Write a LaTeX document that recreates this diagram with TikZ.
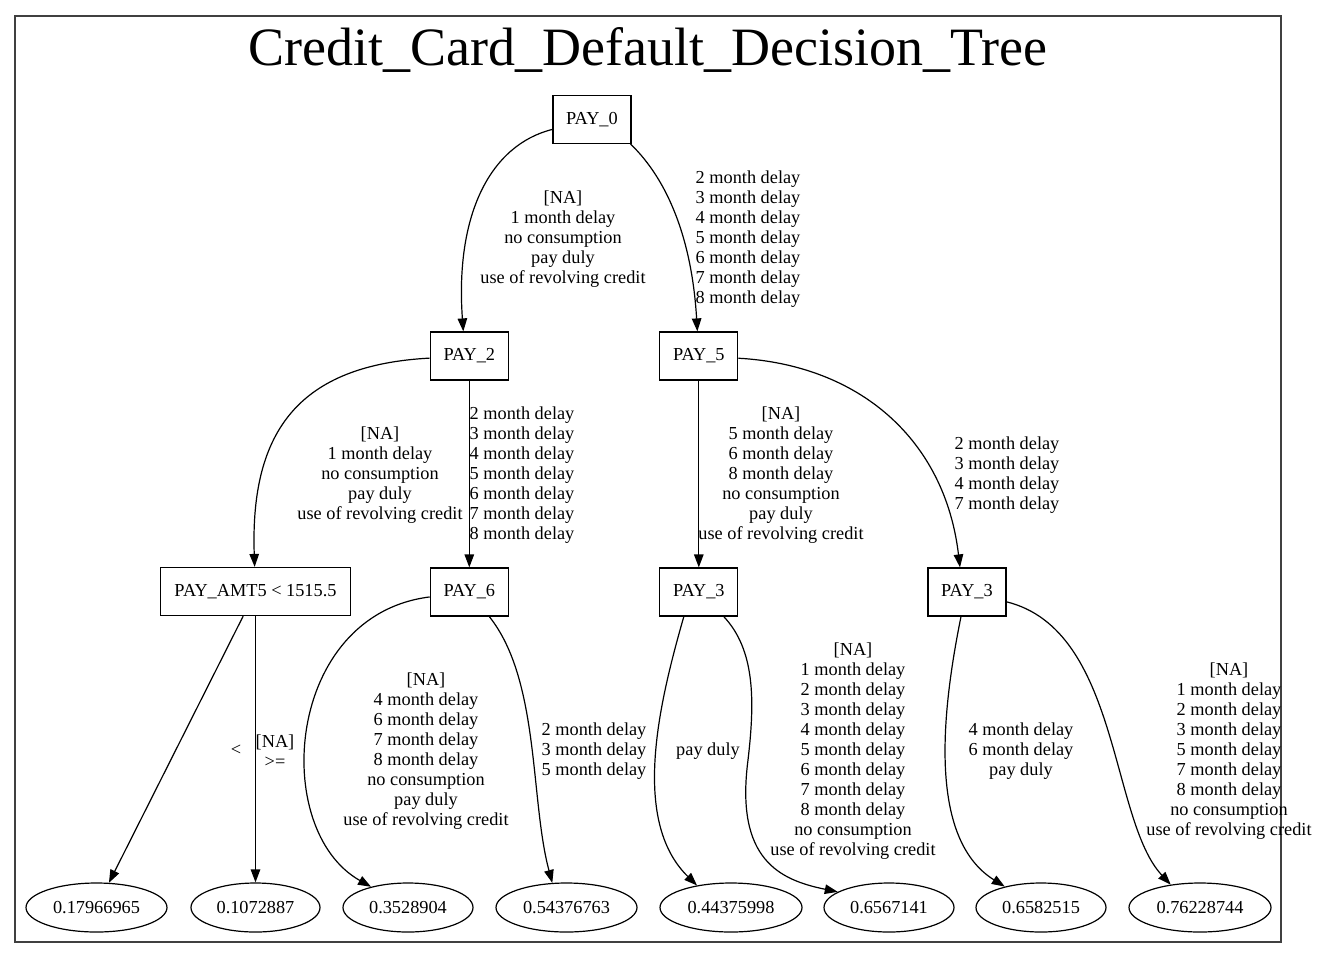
\documentclass[tikz,border=0pt]{standalone}
\usepackage{fontspec}
\setmainfont{Liberation Serif}
\usetikzlibrary{arrows.meta,shapes.geometric}
\newcommand\fsz{\fontsize{18.3}{20}\selectfont}
\tikzset{
  box/.style={draw, line width=1.2pt, minimum height=48, minimum width=78, inner sep=0pt, font=\fsz},
  leaf/.style={draw, ellipse, line width=1.2pt, minimum height=49, inner sep=0pt, font=\fsz},
  edge/.style={line width=1.2pt, -{Triangle[length=13,width=9.5]}},
  lbl/.style={align=center, font=\fsz, inner sep=0pt},
  frame/.style={draw=black!75, line width=1.3pt}
}
\begin{document}
\begin{tikzpicture}[x=1pt,y=-1pt]
\useasboundingbox (0,0) rectangle (1319,959);
\fill[white] (0,0) rectangle (1319,959);
\draw[frame] (15,16) rectangle (1281,942);
\node[font=\fontsize{54}{60}\selectfont, anchor=base, inner sep=0pt] (title) at (648,65) {Credit\_Card\_Default\_Decision\_Tree};
% decision nodes
\node[box] (p0) at (592,119.5) {PAY\_0};
\node[box] (p2) at (469.3,356) {PAY\_2};
\node[box] (p5) at (698.8,356) {PAY\_5};
\node[box, minimum width=190] (amt) at (255.5,591.5) {PAY\_AMT5 < 1515.5};
\node[box] (p6) at (469.3,592) {PAY\_6};
\node[box] (p3a) at (698.8,592) {PAY\_3};
\node[box] (p3b) at (967,592) {PAY\_3};
% leaves
\node[leaf, minimum width=141] (l1) at (96.5,907.5) {0.17966965};
\node[leaf, minimum width=129] (l2) at (255.5,907.5) {0.1072887};
\node[leaf, minimum width=130] (l3) at (408,907.5) {0.3528904};
\node[leaf, minimum width=141] (l4) at (566.5,907.5) {0.54376763};
\node[leaf, minimum width=142] (l5) at (731,907.5) {0.44375998};
\node[leaf, minimum width=130] (l6) at (889,907.5) {0.6567141};
\node[leaf, minimum width=130] (l7) at (1041,907.5) {0.6582515};
\node[leaf, minimum width=142] (l8) at (1200,907.5) {0.76228744};
% edges
\draw[edge] (p0) .. controls (490,145) and (455,215) .. ([xshift=-6]p2.north);
\draw[edge] ([xshift=-1]p0.south east) .. controls (668,180) and (692,240) .. (p5);
\draw[edge] (p2) .. controls (300,365) and (250,430) .. (amt);
\draw[edge] (p2) -- (p6);
\draw[edge] (p5) -- (p3a);
\draw[edge] (p5) .. controls (860,365) and (945,440) .. ([xshift=-7]p3b.north);
\draw[edge] (amt) -- (l1);
\draw[edge] (amt) -- (l2);
\draw[edge] (p6) .. controls (285,615) and (270,830) .. (l3);
\draw[edge] ([xshift=20]p6.south) .. controls (540,680) and (530,800) .. (l4.120);
\draw[edge] ([xshift=-15]p3a.south) .. controls (660,700) and (630,820) .. (l5.147);
\draw[edge] ([xshift=25]p3a.south) .. controls (755,650) and (755,700) .. (748,760) .. controls (735,860) and (780,880) .. (l6.163);
\draw[edge] ([xshift=-6]p3b.south) .. controls (940,720) and (930,840) .. (l7.150);
\draw[edge] (p3b) .. controls (1120,630) and (1110,820) .. (l8.142);
% edge labels
\node[lbl] (e1) at (563,239) {[NA]\\1 month delay\\no consumption\\pay duly\\use of revolving credit};
\node[lbl] (e2) at (748,239) {2 month delay\\3 month delay\\4 month delay\\5 month delay\\6 month delay\\7 month delay\\8 month delay};
\node[lbl] (e3) at (380,475) {[NA]\\1 month delay\\no consumption\\pay duly\\use of revolving credit};
\node[lbl] (e4) at (522,475) {2 month delay\\3 month delay\\4 month delay\\5 month delay\\6 month delay\\7 month delay\\8 month delay};
\node[lbl] (e5) at (781,475) {[NA]\\5 month delay\\6 month delay\\8 month delay\\no consumption\\pay duly\\use of revolving credit};
\node[lbl] (e6) at (1007,475) {2 month delay\\3 month delay\\4 month delay\\7 month delay};
\node[lbl] (e7) at (236,750) {<};
\node[lbl] (e8) at (275,751.5) {[NA]\\>=};
\node[lbl] (e9) at (426,751) {[NA]\\4 month delay\\6 month delay\\7 month delay\\8 month delay\\no consumption\\pay duly\\use of revolving credit};
\node[lbl] (e10) at (594,751) {2 month delay\\3 month delay\\5 month delay};
\node[lbl] (e11) at (708,751) {pay duly};
\node[lbl] (e12) at (853,751) {[NA]\\1 month delay\\2 month delay\\3 month delay\\4 month delay\\5 month delay\\6 month delay\\7 month delay\\8 month delay\\no consumption\\use of revolving credit};
\node[lbl] (e13) at (1021,751) {4 month delay\\6 month delay\\pay duly};
\node[lbl] (e14) at (1229,751) {[NA]\\1 month delay\\2 month delay\\3 month delay\\5 month delay\\7 month delay\\8 month delay\\no consumption\\use of revolving credit};
\end{tikzpicture}
\end{document}
